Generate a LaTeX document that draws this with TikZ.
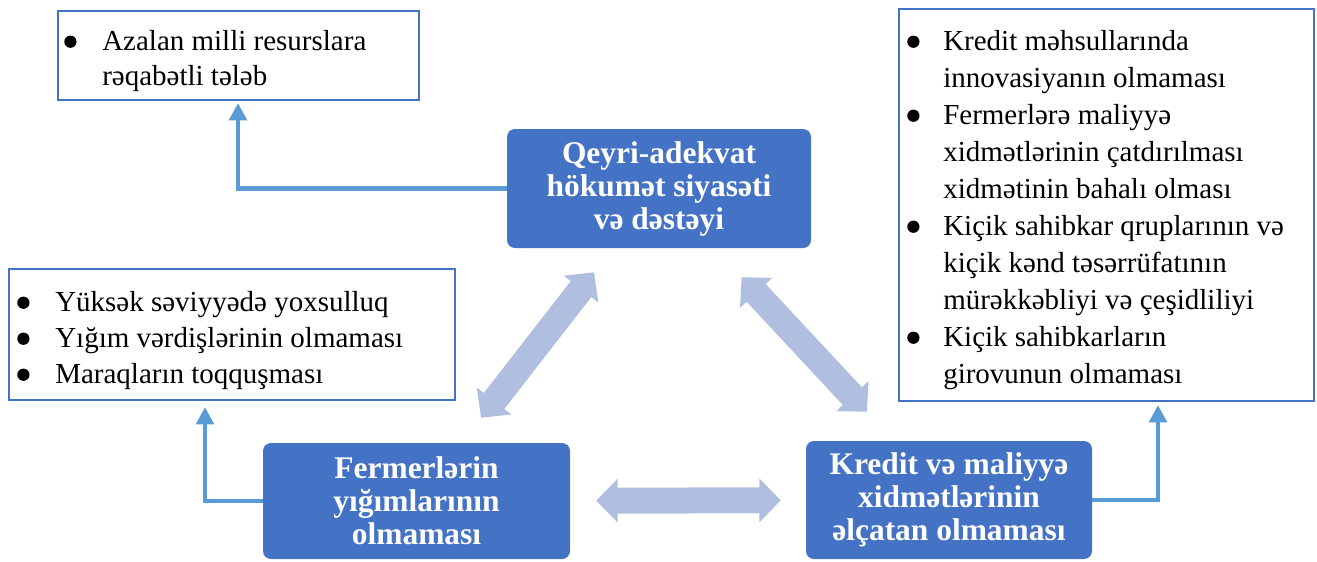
\documentclass[tikz,border=0pt]{standalone}
\usepackage{fontspec}
\setmainfont{Liberation Serif}
\usetikzlibrary{arrows.meta}

\definecolor{boxblue}{HTML}{4472C4}
\definecolor{linkblue}{HTML}{5B9BD5}
\definecolor{paleblue}{HTML}{B0BEDF}

% list bullet
\newcommand{\blt}{\raisebox{1.6pt}{\tikz[x=1pt,y=1pt]\fill[black] (0,0) circle [radius=4.6pt];}}

\tikzset{
  listbox/.style={draw=boxblue, line width=1.5pt, anchor=north west, inner sep=0pt},
  listtext/.style={anchor=base west, inner sep=0pt},
  cause/.style={fill=boxblue, rounded corners=6pt, text=white, align=center, inner sep=0pt,
    font=\fontsize{23.6}{24.75}\selectfont\bfseries},
  link/.style={draw=linkblue, line width=3.4pt, -{Triangle[width=13pt,length=13pt]}},
  twoway/.style={draw=paleblue, line width=19.5pt,
    {Triangle[width=32pt,length=16pt]}-{Triangle[width=32pt,length=16pt]}}
}

\begin{document}
\begin{tikzpicture}[x=0.75pt,y=0.75pt,yscale=-1,xscale=1]
\useasboundingbox (0,0) rectangle (1317,561);

% Cause boxes
\node (qbox) [cause, minimum width=228pt, minimum height=89.25pt] at (659,188.5) {Qeyri-adekvat\\hökumət siyasəti\\və dəstəyi};
\node (fbox) [cause, minimum width=230.25pt, minimum height=87pt] at (416.5,501) {Fermerlərin\\yığımlarının\\olmaması};
\node (kbox) [cause, minimum width=214.5pt, minimum height=88.5pt] at (949,500) {Kredit və maliyyə\\xidmətlərinin\\əlçatan olmaması};

% List boxes
\node (tlbox) [listbox, minimum width=270.75pt, minimum height=66.75pt] at (57,10) {};
\node (lbox) [listbox, minimum width=334.5pt, minimum height=98.25pt] at (8,268) {};
\node (rbox) [listbox, minimum width=311.25pt, minimum height=294pt] at (898,8) {};

% Text Node
\node (tltext) [listtext, font=\fontsize{21.75}{26.25}\selectfont] at (64,50) {\begin{tabular}[t]{@{}p{28.5pt}@{}l@{}}
\blt&Azalan milli resurslara\\
&rəqabətli tələb
\end{tabular}};
% Text Node
\node (ltext) [listtext, font=\fontsize{21.75}{27}\selectfont] at (17,311) {\begin{tabular}[t]{@{}p{28.5pt}@{}l@{}}
\blt&Yüksək səviyyədə yoxsulluq\\
\blt&Yığım vərdişlərinin olmaması\\
\blt&Maraqların toqquşması
\end{tabular}};
% Text Node
\node (rtext) [listtext, font=\fontsize{21.75}{27.75}\selectfont] at (907,50) {\begin{tabular}[t]{@{}p{27pt}@{}l@{}}
\blt&Kredit məhsullarında\\
&innovasiyanın olmaması\\
\blt&Fermerlərə maliyyə\\
&xidmətlərinin çatdırılması\\
&xidmətinin bahalı olması\\
\blt&Kiçik sahibkar qruplarının və\\
&kiçik kənd təsərrüfatının\\
&mürəkkəbliyi və çeşidliliyi\\
\blt&Kiçik sahibkarların\\
&girovunun olmaması
\end{tabular}};

% Link ends under the list boxes
\coordinate (tlin) at (238,103);
\coordinate (lin) at (205,407);
\coordinate (rin) at (1158,405);

% Links to the lists
\draw [link] (qbox.west) -| (tlin);
\draw [link] (fbox.west) -| (lin);
\draw [link] (kbox.east) -| (rin);

% Two-way arrows
\draw [twoway, shorten <=23.7pt, shorten >=22.8pt] (fbox) -- (qbox);
\draw [twoway, shorten <=29.7pt, shorten >=29.7pt] (qbox) -- (kbox);
\draw [twoway, shorten <=19.5pt, shorten >=18.75pt] (fbox) -- (kbox);

\end{tikzpicture}
\end{document}
